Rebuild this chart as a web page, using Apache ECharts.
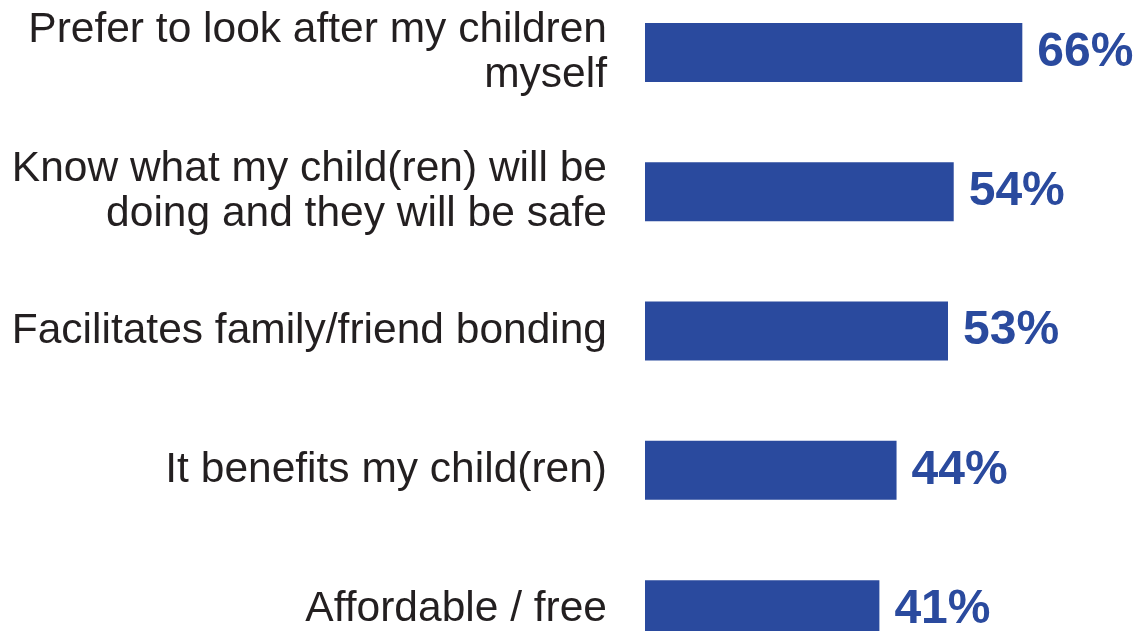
<!DOCTYPE html>
<html>
<head>
<meta charset="utf-8">
<style>
html,body{margin:0;padding:0;background:#fff;}
#chart{width:1140px;height:631px;}
</style>
<script src="https://cdn.jsdelivr.net/npm/echarts@6/dist/echarts.min.js"></script>
</head>
<body>
<div id="chart"></div>
<script>
var categories = [
  "Prefer to look after my children\nmyself",
  "Know what my child(ren) will be\ndoing and they will be safe",
  "Facilitates family/friend bonding",
  "It benefits my child(ren)",
  "Affordable / free"
];
var values = [66, 54, 53, 44, 41];

var chart = echarts.init(document.getElementById('chart'));
chart.setOption({
  animation: false,
  backgroundColor: '#ffffff',
  grid: { left: 645, top: -17.2, width: 571.7, height: 696.5, containLabel: false, outerBoundsMode: 'none' },
  xAxis: {
    type: 'value', min: 0, max: 100, show: false
  },
  yAxis: {
    type: 'category', data: categories, inverse: true,
    axisLine: { show: false }, axisTick: { show: false }, splitLine: { show: false },
    axisLabel: {
      margin: 38, fontFamily: 'Liberation Sans, Arial, sans-serif', fontSize: 42.5,
      lineHeight: 45, color: '#231f20', align: 'right'
    }
  },
  series: [{
    type: 'bar', data: values, barWidth: 59,
    itemStyle: { color: '#2a4a9e' },
    label: {
      show: true, position: 'right', distance: 15,
      formatter: '{c}%',
      fontFamily: 'Liberation Sans, Arial, sans-serif', fontWeight: 'bold', fontSize: 48,
      color: '#2a4a9e'
    }
  }]
});
</script>
</body>
</html>
